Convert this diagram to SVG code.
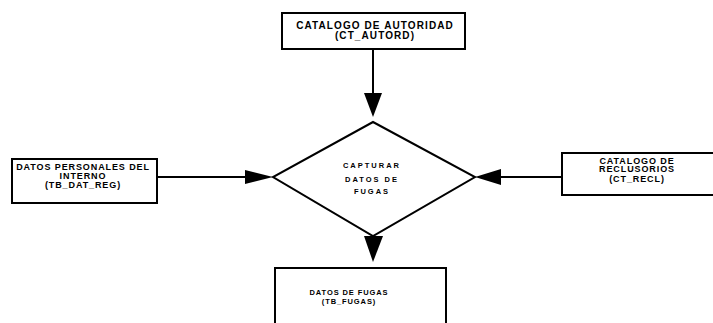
<svg xmlns="http://www.w3.org/2000/svg" width="713" height="323" viewBox="0 0 713 323">
<defs>
<style>
.box{fill:#fff;stroke:#000;stroke-width:2}
.t{font-family:"Liberation Sans",Arial,sans-serif;font-weight:bold;font-size:10px;fill:#000;text-anchor:middle;letter-spacing:1.1px}
.tm{font-size:9px;letter-spacing:0.9px}
.ts{font-size:7.5px;letter-spacing:2px}
.tb{font-size:7.5px;letter-spacing:0.9px}
.c{stroke:#000;stroke-width:2;fill:none}
.a{fill:#000}
</style>
</defs>
<g id="connectors">
<line class="c" x1="373" y1="49" x2="373" y2="95"/>
<polygon class="a" points="364,93 382,93 373,117"/>
<line class="c" x1="157" y1="177" x2="247" y2="177"/>
<polygon class="a" points="245,170 245,184 273,177"/>
<line class="c" x1="562" y1="177" x2="499" y2="177"/>
<polygon class="a" points="501,169 501,185 475,177"/>
<polygon class="a" points="364,236 383,236 373,262"/>
</g>
<g id="top">
<rect class="box" x="282" y="13" width="183" height="36"/>
<text class="t" x="375" y="29">CATALOGO DE AUTORIDAD</text>
<text class="t" x="375" y="39">(CT_AUTORD)</text>
</g>
<g id="left">
<rect class="box" x="12" y="159" width="145" height="44"/>
<text class="t tm" x="83" y="169.5">DATOS PERSONALES DEL</text>
<text class="t tm" x="83" y="178.5">INTERNO</text>
<text class="t tm" x="83" y="187.5">(TB_DAT_REG)</text>
</g>
<g id="right">
<rect class="box" x="562" y="153" width="160" height="42"/>
<text class="t tm" x="637" y="163.5">CATALOGO DE</text>
<text class="t tm" x="637" y="172">RECLUSORIOS</text>
<text class="t tm" x="637" y="181.5">(CT_RECL)</text>
</g>
<g id="process">
<polygon points="373,122 475,177 373,236 273,177" fill="#fff" stroke="#000" stroke-width="2"/>
<text class="t ts" x="372" y="168">CAPTURAR</text>
<text class="t ts" x="372" y="182">DATOS DE</text>
<text class="t ts" x="372" y="194">FUGAS</text>
</g>
<g id="bottom">
<rect class="box" x="275" y="268" width="171" height="70"/>
<text class="t tb" x="349" y="295">DATOS DE FUGAS</text>
<text class="t tb" x="349" y="303.5">(TB_FUGAS)</text>
</g>
</svg>
